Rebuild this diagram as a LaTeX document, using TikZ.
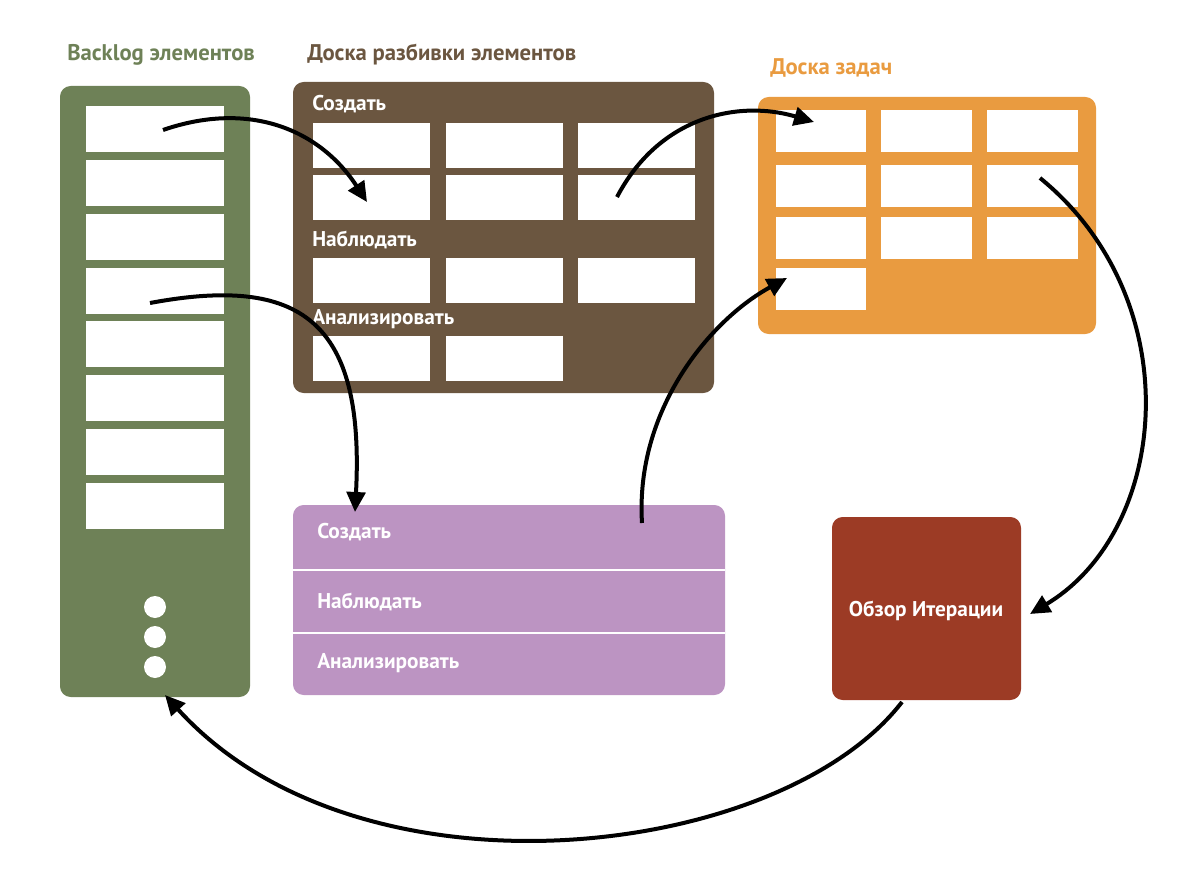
\documentclass[tikz,border=0pt]{standalone}
\usepackage{fontspec}
\setmainfont{PT Sans}
\usetikzlibrary{arrows.meta}
\definecolor{cgreen}{HTML}{6E8157}
\definecolor{cbrown}{HTML}{6B5640}
\definecolor{corange}{HTML}{E99B40}
\definecolor{cpurple}{HTML}{BC94C2}
\definecolor{cred}{HTML}{9C3B25}
\begin{document}
\begin{tikzpicture}[x=0.75pt,y=-0.75pt,
  cell/.style={fill=white},
  lbl/.style={font=\bfseries\fontsize{16}{18}\selectfont,text=white,anchor=west,inner sep=0},
  ttl/.style={font=\bfseries\fontsize{17}{19}\selectfont,anchor=west,inner sep=0},
  arr/.style={-{Triangle[length=15pt,width=14pt]},line width=3pt}]
\useasboundingbox (0,0) rectangle (1200,888);
% green
\fill[cgreen,rounded corners=8pt] (60,86) rectangle (250,697);
\foreach \y in {106,160,214,268,321,375,429,483}
  \fill[cell] (86,\y) rectangle (224,\y+46);
\foreach \y in {607,637,667} \fill[white] (155,\y) circle (11);
\node[ttl,text=cgreen] (t1) at (67,55) {Backlog элементов};
% brown
\fill[cbrown,rounded corners=8pt] (293,82) rectangle (714,393);
\node[ttl,text=cbrown] (t2) at (307,55) {Доска разбивки элементов};
\node[lbl] (b1) at (312,104) {Создать};
\node[lbl] (b2) at (312,240) {Наблюдать};
\node[lbl] (b3) at (312,319) {Анализировать};
\foreach \y in {123,175,258}
  \foreach \x in {313,446,578} \fill[cell] (\x,\y) rectangle (\x+117,\y+45);
\foreach \x in {313,446} \fill[cell] (\x,336) rectangle (\x+117,381);
% orange
\fill[corange,rounded corners=8pt] (758,97) rectangle (1096,334);
\node[ttl,text=corange] (t3) at (770,68) {Доска задач};
\foreach \y in {110,165,217}
  \foreach \x/\w in {776/90,881/91,987/91} \fill[cell] (\x,\y) rectangle (\x+\w,\y+42);
\fill[cell] (776,268) rectangle (866,310);
% purple
\fill[cpurple,rounded corners=8pt] (293,505) rectangle (725,695);
\draw[white,line width=2pt] (293,570) -- (725,570) (293,633) -- (725,633);
\node[lbl] (p1) at (317,532) {Создать};
\node[lbl] (p2) at (317,602) {Наблюдать};
\node[lbl] (p3) at (317,663) {Анализировать};
% red
\fill[cred,rounded corners=8pt] (832,517) rectangle (1021,700);
\node[font=\bfseries\fontsize{16}{18}\selectfont,text=white] (r) at (926,611) {Обзор Итерации};
% arrows
\coordinate (a1s) at (163,130); \coordinate (a1e) at (367,202);
\coordinate (a2s) at (150,303); \coordinate (a2e) at (355,512);
\coordinate (a3s) at (617,197); \coordinate (a3e) at (814,122);
\coordinate (a4s) at (642,523); \coordinate (a4e) at (787,278);
\coordinate (a5s) at (1040,178); \coordinate (a5e) at (1030,614);
\coordinate (a6s) at (902,702); \coordinate (a6e) at (165,695);
\draw[arr] (a1s) .. controls (250,100) and (320,130) .. (a1e);
\draw[arr] (a2s) .. controls (300,275) and (365,320) .. (a2e);
\draw[arr] (a3s) .. controls (660,115) and (740,100) .. (a3e);
\draw[arr] (a4s) .. controls (635,410) and (710,320) .. (a4e);
\draw[arr] (a5s) .. controls (1190,300) and (1170,530) .. (a5e);
\draw[arr] (a6s) .. controls (780,860) and (360,910) .. (a6e);
\end{tikzpicture}
\end{document}
